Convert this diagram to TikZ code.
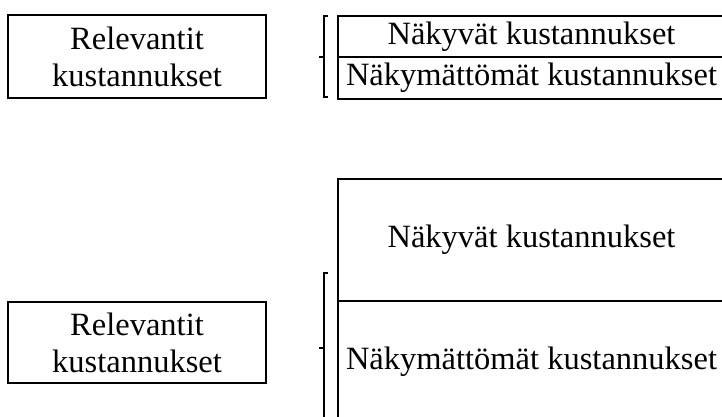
\documentclass[tikz,border=0pt]{standalone}
\usepackage{fontspec}
\setmainfont{Liberation Serif}
\begin{document}
\begin{tikzpicture}[x=1pt,y=-1pt,
  box/.style={draw, line width=2.4pt, rectangle, inner sep=0pt, align=center,
              font=\fontsize{32.5}{37}\selectfont},
  brk/.style={draw, line width=1.4pt}]
\useasboundingbox (0,0) rectangle (722,417);
\clip (0,0) rectangle (722,417);

% upper group
\node[box, minimum width=258pt, minimum height=83pt] (rel1) at (137,56.5) {Relevantit\\kustannukset};
\node[box, minimum width=387pt, minimum height=41pt] (vis1) at (531.5,36.5) {Näkyvät kustannukset};
\node[box, minimum width=387pt, minimum height=42pt] (inv1) at (531.5,78) {Näkymättömät kustannukset};

% lower group
\node[box, minimum width=258pt, minimum height=81pt] (rel2) at (137,342.5) {Relevantit\\kustannukset};
\node[box, minimum width=387pt, minimum height=122pt] (vis2) at (531.5,240) {Näkyvät kustannukset};
\node[box, minimum width=387pt, minimum height=122pt] (inv2) at (531.5,362) {Näkymättömät kustannukset};

% brackets
\coordinate (b1top) at (324,16);
\coordinate (b1mid) at (324,57);
\coordinate (b1bot) at (324,97);
\draw[brk] ([xshift=4pt]b1top) -- (b1top) -- (b1bot) -- ([xshift=4pt]b1bot);
\draw[brk] (b1mid) -- ([xshift=-5pt]b1mid);

\coordinate (b2top) at (324,273);
\coordinate (b2mid) at (324,348);
\coordinate (b2bot) at (324,423);
\draw[brk] ([xshift=4pt]b2top) -- (b2top) -- (b2bot) -- ([xshift=4pt]b2bot);
\draw[brk] (b2mid) -- ([xshift=-5pt]b2mid);
\end{tikzpicture}
\end{document}
